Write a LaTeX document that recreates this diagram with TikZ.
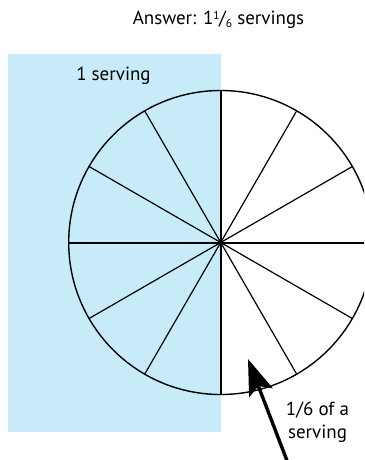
\documentclass[tikz,border=0pt]{standalone}
\usepackage{fontspec}
\setmainfont{PT Sans}
\usetikzlibrary{arrows.meta}
\definecolor{servblue}{RGB}{199,235,249}
\tikzset{
  lbl/.style={font=\fontsize{19}{22}\selectfont, inner sep=0pt, align=center},
  spoke/.style={line width=1.2pt, black},
  axisline/.style={line width=2pt, black},
  rim/.style={line width=1.4pt, black},
  bigarrow/.style={line width=3.4pt, -{Stealth[length=36pt,width=25pt,inset=7pt]}}
}
\begin{document}
\begin{tikzpicture}[x=1pt,y=-1pt]
\useasboundingbox (0,0) rectangle (364,460);
\clip (0,0) rectangle (364,460);
\fill[servblue] (8,54) rectangle (221,432);
\coordinate (O) at (220.7,242.5);
\foreach \a in {30,60,120,150,210,240,300,330}
  \draw[spoke] (O) -- ++(\a:152pt);
\draw[axisline] (O) -- ++(0:152pt);
\draw[axisline] (O) -- ++(180:152pt);
\draw[axisline] (O) -- ++(90:152pt);
\draw[axisline] (O) -- ++(270:152pt);
\draw[rim] (O) circle[radius=152pt];
\node[lbl, anchor=base] (ans) at (218.5,25) {Answer: 1\raisebox{0.55ex}{\fontsize{11.5}{12}\selectfont 1}\kern-0.5pt/\raisebox{-0.3ex}{\fontsize{11.5}{12}\selectfont 6} servings};
\node[lbl, anchor=base] (one) at (113.5,81) {1 serving};
\node[lbl, anchor=base] (sixth) at (317.5,415) {1/6 of a};
\node[lbl, anchor=base] (serv) at (317.5,438) {serving};
\coordinate (tail) at (287.5,462);
\coordinate (tip) at (248,359);
\draw[bigarrow] (tail) -- (tip);
\end{tikzpicture}
\end{document}
